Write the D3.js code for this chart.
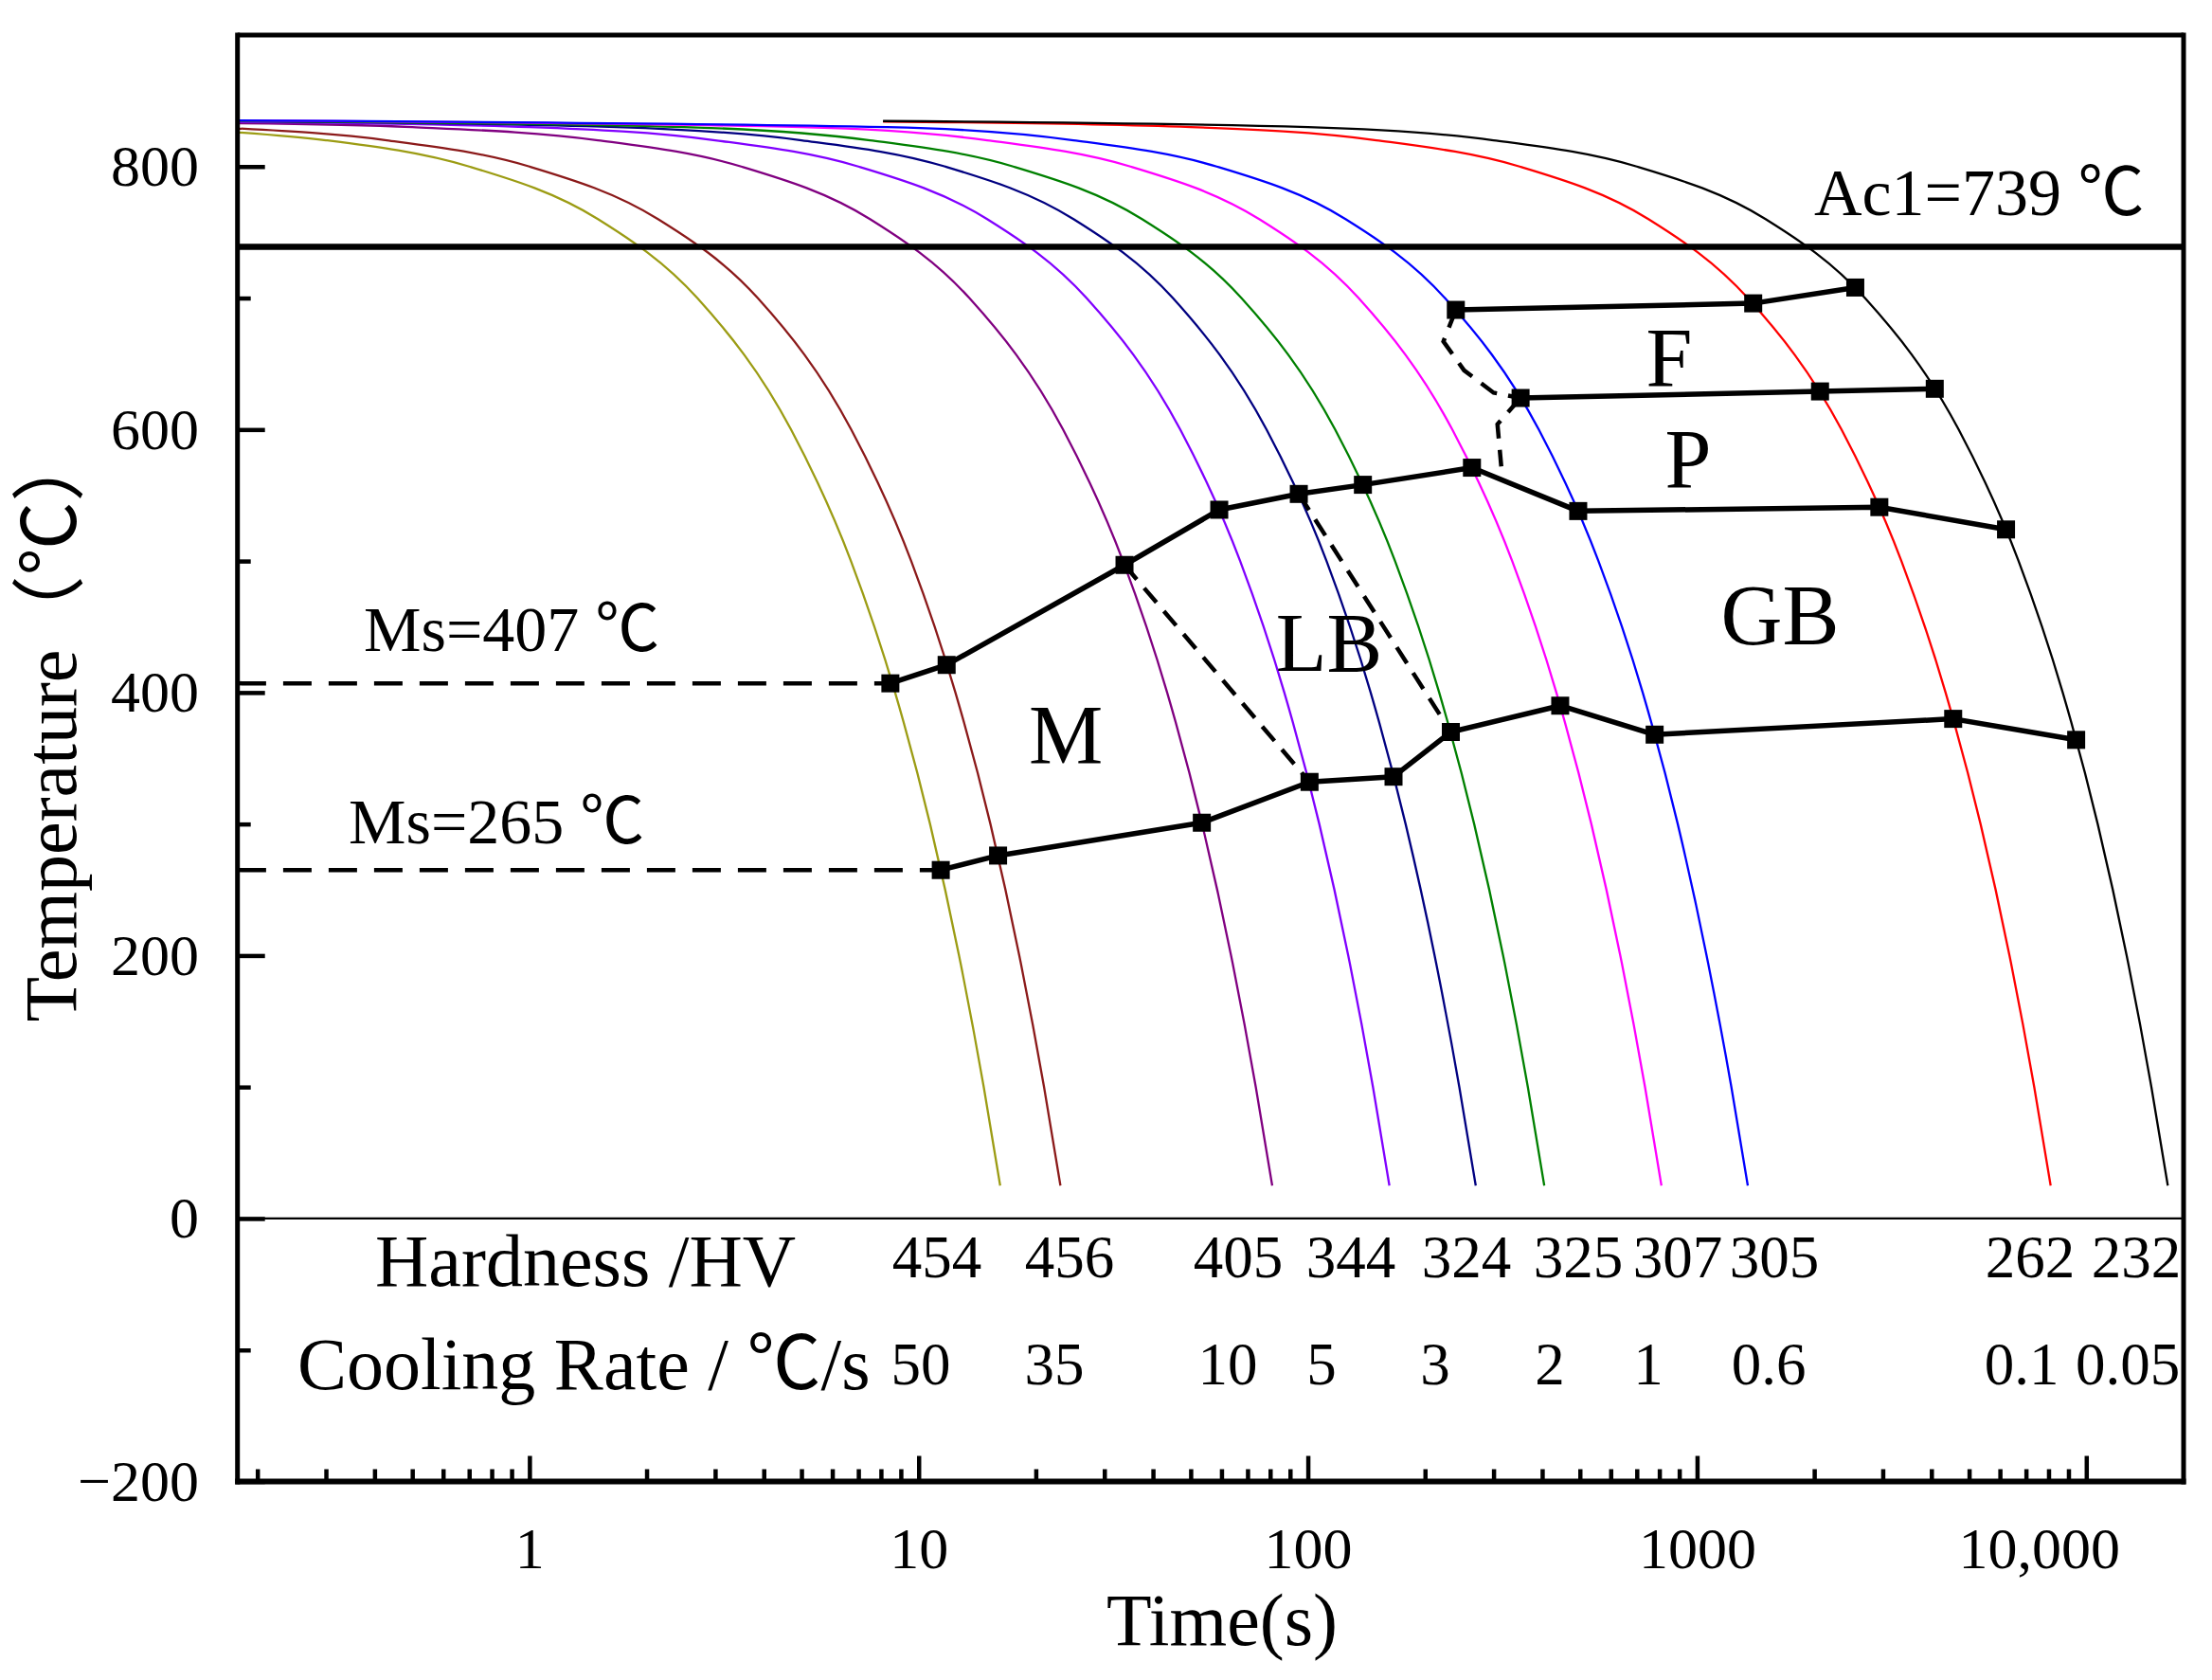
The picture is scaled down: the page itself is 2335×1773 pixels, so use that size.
<!DOCTYPE html>
<html>
<head>
<meta charset="utf-8">
<script src="https://cdn.jsdelivr.net/npm/d3@7"></script>
<style>
  html, body { margin: 0; padding: 0; background: #ffffff; }
  svg { display: block; }
  text { font-family: "Liberation Serif", "Times New Roman", "Noto Sans CJK SC", serif; fill: #000; }
</style>
</head>
<body>
<div id="chart"></div>
<script>
// ---------------- DATA ----------------
const coolingRates = ["50", "35", "10", "5", "3", "2", "1", "0.6", "0.1", "0.05"];
const hardnessHV = ["454", "456", "405", "344", "324", "325", "307", "305", "262", "232"];

// cooling curves [time s, temperature °C]
const cool50  = [[0.178,826],[0.3,820],[0.7,800],[1.5,760],[2.7,700],[4.7,600],[6.7,500],[8.7,400],[10.7,300],[12.7,200],[14.7,100],[16.2,25]];
const cool35  = [[0.178,829],[0.43,820],[1.0,800],[2.14,760],[3.86,700],[6.71,600],[9.57,500],[12.43,400],[15.29,300],[18.14,200],[21.0,100],[23.14,25]];
const cool10  = [[0.178,833],[0.5,830],[1.5,820],[3.5,800],[7.5,760],[13.5,700],[23.5,600],[33.5,500],[43.5,400],[53.5,300],[63.5,200],[73.5,100],[81,25]];
const cool5   = [[0.178,834],[1,830],[3,820],[7,800],[15,760],[27,700],[47,600],[67,500],[87,400],[107,300],[127,200],[147,100],[162,25]];
const cool3   = [[0.178,834.5],[1.67,830],[5,820],[11.7,800],[25,760],[45,700],[78.3,600],[111.7,500],[145,400],[178.3,300],[211.7,200],[245,100],[270,25]];
const cool2   = [[0.178,834.6],[2.5,830],[7.5,820],[17.5,800],[37.5,760],[67.5,700],[117.5,600],[167.5,500],[217.5,400],[267.5,300],[317.5,200],[367.5,100],[405,25]];
const cool1   = [[0.178,835],[5,830],[15,820],[35,800],[75,760],[135,700],[235,600],[335,500],[435,400],[535,300],[635,200],[735,100],[810,25]];
const cool06  = [[0.178,835],[8.3,830],[25,820],[58.3,800],[125,760],[225,700],[392,600],[558,500],[725,400],[892,300],[1058,200],[1225,100],[1350,25]];
const cool01  = [[8.1,834.2],[50,830],[150,820],[350,800],[750,760],[1350,700],[2350,600],[3350,500],[4350,400],[5350,300],[6350,200],[7350,100],[8100,25]];
const cool005 = [[8.1,834.6],[100,830],[300,820],[700,800],[1500,760],[2700,700],[4700,600],[6700,500],[8700,400],[10700,300],[12700,200],[14700,100],[16200,25]];

// transformation lines [time s, temperature °C]
const bainiteStart = [[8.46,407],[11.8,421],[33.8,497],[59.2,539],[94.8,551],[138.5,558],[264,571],[495,538],[2940,541],[6220,524]];
const lowerLine    = [[11.4,265],[16.0,276],[53.4,301],[101,332],[166,336],[233,370],[445,390],[778,368],[4550,380],[9420,364]];
const ferriteStart = [[240,691],[1394,696],[2550,708]];
const pearliteStart = [[352,624],[2070,629],[4080,631]];
const dashFP  = [[240,691],[223,667],[252,645],[300,628],[352,624]];
const dashP   = [[352,624],[307,604],[314,572]];
const dashLB1 = [[33.8,497],[101,332]];
const dashLB2 = [[94.8,551],[233,370]];
const ms407 = [[0.178,407],[8.46,407]];
const ms265 = [[0.178,265],[11.4,265]];
const ac1Temp = 739;

const yTicksMajor = [-200, 0, 200, 400, 600, 800];
const yTicksMinor = [-100, 100, 300, 500, 700];
const xTicksMajor = [1, 10, 100, 1000, 10000];
const xTickLabels = ["1", "10", "100", "1000", "10,000"];

// ---------------- STYLE / LAYOUT ----------------
const curves = [cool50, cool35, cool10, cool5, cool3, cool2, cool1, cool06, cool01, cool005];
const curveColors = ["#9c9c14", "#8b1a1a", "#800080", "#8000ff", "#000080", "#008000", "#ff00ff", "#0000ff", "#ff0000", "#000000"];
const hardnessX = [989, 1129, 1307, 1426, 1548, 1666, 1771, 1873, 2143, 2255];
const rateX     = [972, 1113, 1296, 1395, 1515, 1636, 1740, 1867, 2134, 2246];

const W = 2335, H = 1773;
const L = 250.7, R = 2305, T = 37, B = 1563.5;

const svg = d3.select("#chart").append("svg").attr("width", W).attr("height", H);
svg.append("rect").attr("width", W).attr("height", H).attr("fill", "#fff");

const x = d3.scaleLog().domain([0.1778, 17783]).range([L, R]);
const y = d3.scaleLinear().domain([-200, 900]).range([B, T]);

const line = d3.line().x(d => x(d[0])).y(d => y(d[1]));
const smooth = d3.line().x(d => x(d[0])).y(d => y(d[1])).curve(d3.curveMonotoneX);

// cooling curves
svg.append("g").selectAll("path").data(curves).join("path")
  .attr("d", smooth)
  .attr("fill", "none")
  .attr("stroke", (d, i) => curveColors[i])
  .attr("stroke-width", 2.3);

// Ac1 line & zero line
svg.append("line").attr("x1", L).attr("x2", R).attr("y1", y(ac1Temp)).attr("y2", y(ac1Temp))
  .attr("stroke", "#000").attr("stroke-width", 6.5);
svg.append("line").attr("x1", L).attr("x2", R).attr("y1", y(0)).attr("y2", y(0))
  .attr("stroke", "#000").attr("stroke-width", 2.2);

// dashed lines
const dashG = svg.append("g").attr("fill", "none").attr("stroke", "#000");
[ms407, ms265].forEach(d => dashG.append("path").attr("d", line(d))
  .attr("stroke-width", 4.5).attr("stroke-dasharray", "30,18"));
[dashLB1, dashLB2, dashP, dashFP].forEach(d => dashG.append("path").attr("d", line(d))
  .attr("stroke-width", 4.5).attr("stroke-dasharray", "20,12"));

// solid transformation lines
const solid = [bainiteStart, lowerLine, ferriteStart, pearliteStart];
svg.append("g").selectAll("path").data(solid).join("path")
  .attr("d", line).attr("fill", "none").attr("stroke", "#000").attr("stroke-width", 5.5)
  .attr("stroke-linejoin", "round");

// squares
const sq = 19;
svg.append("g").selectAll("rect").data(solid.flat()).join("rect")
  .attr("x", d => x(d[0]) - sq / 2).attr("y", d => y(d[1]) - sq / 2)
  .attr("width", sq).attr("height", sq).attr("fill", "#000");

// axes
const xMinor = [];
[0.1, 1, 10, 100, 1000, 10000].forEach(dec => { for (let k = 2; k <= 9; k++) { const v = dec * k; if (v >= 0.1778 && v <= 17783) xMinor.push(v); } });

const gx = svg.append("g").attr("transform", `translate(0,${B})`);
gx.call(d3.axisBottom(x).tickValues(xTicksMajor).tickFormat((d, i) => xTickLabels[i])
  .tickSizeInner(-27).tickSizeOuter(0).tickPadding(47.5));
const gxm = svg.append("g").attr("transform", `translate(0,${B})`);
gxm.call(d3.axisBottom(x).tickValues(xMinor).tickFormat("").tickSizeInner(-13).tickSizeOuter(0));

const gy = svg.append("g").attr("transform", `translate(${L},0)`);
gy.call(d3.axisLeft(y).tickValues(yTicksMajor).tickFormat(d => d < 0 ? "\u2212" + Math.abs(d) : String(d))
  .tickSizeInner(-29).tickSizeOuter(0).tickPadding(40.7));
const gym = svg.append("g").attr("transform", `translate(${L},0)`);
gym.call(d3.axisLeft(y).tickValues(yTicksMinor).tickFormat("").tickSizeInner(-14).tickSizeOuter(0));

[gx, gxm, gy, gym].forEach(g => {
  g.select(".domain").remove();
  g.selectAll(".tick line").attr("stroke", "#000").attr("stroke-width", 4.5);
  g.selectAll(".tick text").attr("font-size", 62).attr("fill", "#000")
    .style("font-family", '"Liberation Serif","Times New Roman",serif');
});
// "10,000" label sits left of its tick in the reference
gx.selectAll(".tick text").filter(d => d === 10000).attr("dx", -50);

// frame
const frame = svg.append("g").attr("stroke", "#000").attr("fill", "none");
frame.append("line").attr("x1", L).attr("x2", L).attr("y1", T - 2.5).attr("y2", B + 3).attr("stroke-width", 5);
frame.append("line").attr("x1", R).attr("x2", R).attr("y1", T - 2.5).attr("y2", B + 3).attr("stroke-width", 5);
frame.append("line").attr("x1", L).attr("x2", R).attr("y1", T).attr("y2", T).attr("stroke-width", 5);
frame.append("line").attr("x1", L - 2.5).attr("x2", R + 2.5).attr("y1", B).attr("y2", B).attr("stroke-width", 6);

// axis titles
svg.append("text").attr("x", 1290).attr("y", 1736).attr("text-anchor", "middle")
  .attr("font-size", 78).text("Time(s)");
svg.append("text").attr("transform", "translate(80,765) rotate(-90)").attr("text-anchor", "middle")
  .attr("font-size", 78).text("Temperature（℃）");

// annotations
const ann = svg.append("g");
ann.append("text").attr("x", 1915).attr("y", 227).attr("font-size", 70).text("Ac1=739 ℃");
ann.append("text").attr("x", 384).attr("y", 687).attr("font-size", 68).text("Ms=407 ℃");
ann.append("text").attr("x", 368).attr("y", 890).attr("font-size", 68).text("Ms=265 ℃");
ann.append("text").attr("x", 1762).attr("y", 407).attr("text-anchor", "middle").attr("font-size", 88).text("F");
ann.append("text").attr("x", 1782).attr("y", 514).attr("text-anchor", "middle").attr("font-size", 88).text("P");
ann.append("text").attr("x", 1879).attr("y", 680).attr("text-anchor", "middle").attr("font-size", 90).text("GB");
ann.append("text").attr("x", 1403).attr("y", 708).attr("text-anchor", "middle").attr("font-size", 88).text("LB");
ann.append("text").attr("x", 1125).attr("y", 805).attr("text-anchor", "middle").attr("font-size", 88).text("M");

// hardness & cooling rate rows
ann.append("text").attr("x", 396).attr("y", 1357).attr("font-size", 78).text("Hardness /HV");
ann.append("text").attr("x", 314).attr("y", 1466).attr("font-size", 78).text("Cooling Rate / ℃/s");
ann.append("g").selectAll("text").data(hardnessHV).join("text")
  .attr("x", (d, i) => hardnessX[i]).attr("y", 1348).attr("text-anchor", "middle")
  .attr("font-size", 63).text(d => d);
ann.append("g").selectAll("text").data(coolingRates).join("text")
  .attr("x", (d, i) => rateX[i]).attr("y", 1461).attr("text-anchor", "middle")
  .attr("font-size", 63).text(d => d);
</script>
</body>
</html>
